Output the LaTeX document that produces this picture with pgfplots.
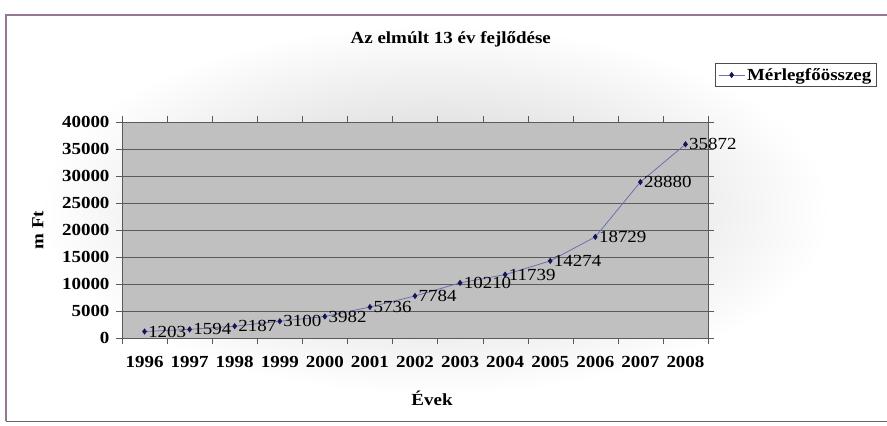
\documentclass[border=0pt]{standalone}
\usepackage{fontspec}
\setmainfont{Liberation Serif}[FakeStretch=1.12]
\usepackage{pgfplots}
\pgfplotsset{compat=1.18}
\definecolor{plotgray}{RGB}{192,192,192}
\definecolor{gridgray}{RGB}{90,90,90}
\definecolor{linecol}{RGB}{110,110,180}
\definecolor{markcol}{RGB}{20,20,90}
\definecolor{framecol}{RGB}{150,120,150}

\begin{document}
\begin{tikzpicture}[x=1bp,y=1bp]
\useasboundingbox (0,0) rectangle (887,425);
% chart area frame
\fill[white] (0,0) rectangle (887,425);
\shade[inner color=black!20, outer color=white] (40,30) rectangle (830,400);
\draw[framecol, line width=1.5bp] (6,4) -- (6,410) -- (887,410);
\draw[black!60, line width=0.6bp] (6,4) -- (887,4);

\begin{axis}[
  at={(122bp,87bp)}, anchor=south west,
  width=586bp, height=216bp, scale only axis,
  xmin=-0.5, xmax=12.5,
  ymin=0, ymax=40000,
  ytick={0,5000,...,40000},
  xtick={0,...,12},
  xticklabels={1996,1997,1998,1999,2000,2001,2002,2003,2004,2005,2006,2007,2008},
  minor xtick={-0.5,0.5,...,12.5},
  major x tick style={draw=none},
  tick align=outside,
  tick style={gridgray},
  minor tick length=6bp, major tick length=6bp,
  ymajorgrids, grid style={gridgray, line width=0.8bp},
  axis background/.style={fill=plotgray},
  axis line style={gridgray},
  scaled y ticks=false,
  /pgf/number format/assume math mode=true,
  ticklabel style={font=\fontsize{17}{18}\selectfont\bfseries},
  yticklabel style={xshift=-3bp, /pgf/number format/.cd, fixed, 1000 sep={}},
  xticklabel style={yshift=-9bp},
  xlabel={\textbf{Évek}}, ylabel={\textbf{m Ft}},
  label style={font=\fontsize{17}{18}\selectfont},
  xlabel style={at={(axis description cs:0.529,-0.278)}, anchor=center},
  ylabel style={at={(axis description cs:-0.128,0.5)}, anchor=south},
  title={\textbf{Az elmúlt 13 év fejlődése}},
  title style={font=\fontsize{17}{18}\selectfont, at={(0.561,1)}, anchor=center, yshift=77bp},
  legend style={at={(1.012,1.273)}, anchor=north west, draw=black!70,
    font=\fontsize{17}{18}\selectfont\bfseries, inner sep=3bp},
  legend image code/.code={\draw[mark repeat=2, mark phase=2, #1]
    plot coordinates {(0bp,0bp) (13bp,0bp) (26bp,0bp)};},
  legend cell align=left,
  nodes near coords,
  nodes near coords style={anchor=west, text=black, font=\fontsize{17}{18}\selectfont,
    /pgf/number format/.cd, fixed, 1000 sep={}},
  clip=false,
]
\addplot[linecol, line width=0.8bp, mark=diamond*, mark size=2.5bp,
  mark options={fill=markcol, draw=markcol}] coordinates {
  (0,1203) (1,1594) (2,2187) (3,3100) (4,3982) (5,5736) (6,7784)
  (7,10210) (8,11739) (9,14274) (10,18729) (11,28880) (12,35872)};
\addlegendentry{Mérlegfőösszeg}
\end{axis}
\end{tikzpicture}
\end{document}
